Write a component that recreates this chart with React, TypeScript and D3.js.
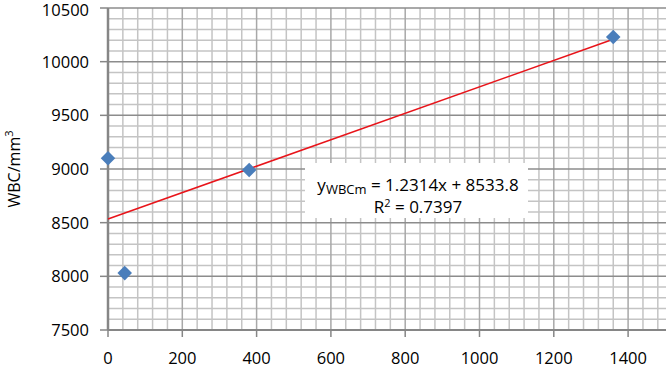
import React from 'react';
import * as d3 from 'd3';

// chart data
const xValues = [0, 45, 380, 1360];
const yValues = [9100, 8030, 8990, 10230];
const xTicks = [0, 200, 400, 600, 800, 1000, 1200, 1400];
const yTicks = [7500, 8000, 8500, 9000, 9500, 10000, 10500];
const slope = 1.2314;
const intercept = 8533.8;
const trendRange = [0, 1360];

const W = 666;
const H = 368;
const left = 108;
const top = 8;
const bottom = 330;
const font = '"Open Sans", sans-serif';

const App = () => {
  const x = d3.scaleLinear().domain([0, 1600]).range([left, left + 74.3 * 8]);
  const y = d3.scaleLinear().domain([7500, 10500]).range([bottom, top]);

  const minorX = d3.range(0, 1600, 40).filter((v) => v % 200 !== 0);
  const minorY = d3.range(7500, 10501, 100).filter((v) => v % 500 !== 0);
  const majorX = d3.range(200, 1601, 200);

  const diamond = d3.symbol().type(d3.symbolDiamond2).size(135);
  const trend = d3.line<number>()
    .x((d) => x(d))
    .y((d) => y(slope * d + intercept));

  return (
    <svg width={W} height={H} style={{ position: 'absolute', left: 0, top: 0, background: '#fff' }}>
      <rect width={W} height={H} fill="#fff" />
      {/* minor grid */}
      {minorX.map((v) => (
        <line key={'mx' + v} x1={x(v)} x2={x(v)} y1={top} y2={bottom} stroke="#c4c4c4" strokeWidth={1.5} />
      ))}
      {minorY.map((v) => (
        <line key={'my' + v} x1={left} x2={W} y1={y(v)} y2={y(v)} stroke="#c4c4c4" strokeWidth={1.5} />
      ))}
      {/* major grid */}
      {majorX.map((v) => (
        <line key={'Mx' + v} x1={x(v)} x2={x(v)} y1={top} y2={bottom} stroke="#a8a8a8" strokeWidth={1.5} />
      ))}
      {yTicks.slice(1).map((v) => (
        <line key={'My' + v} x1={left} x2={W} y1={y(v)} y2={y(v)} stroke="#8c8c8c" strokeWidth={1.5} />
      ))}
      {/* axes */}
      <line x1={left} x2={W} y1={bottom} y2={bottom} stroke="#868686" strokeWidth={2} />
      <line x1={left} x2={left} y1={top} y2={bottom} stroke="#868686" strokeWidth={2.5} />
      {yTicks.map((v) => (
        <g key={'yt' + v}>
          <line x1={left - 8} x2={left} y1={y(v)} y2={y(v)} stroke="#868686" strokeWidth={1.5} />
          <text
            x={89}
            y={Math.max(y(v), 10)}
            dy="0.36em"
            textAnchor="end"
            fontFamily={font}
            fontSize={16.5}
            fill="#000"
          >
            {v}
          </text>
        </g>
      ))}
      {xTicks.map((v) => (
        <g key={'xt' + v}>
          <line x1={x(v)} x2={x(v)} y1={bottom} y2={bottom + 7} stroke="#868686" strokeWidth={1.5} />
          <text x={x(v)} y={364} textAnchor="middle" fontFamily={font} fontSize={16.5} fill="#000">
            {v}
          </text>
        </g>
      ))}
      <text
        transform={`translate(20, ${(top + bottom) / 2}) rotate(-90)`}
        textAnchor="middle"
        fontFamily={font}
        fontSize={16}
        fill="#000"
      >
        WBC/mm<tspan dy={-7} fontSize={11}>3</tspan>
      </text>
      {/* trendline */}
      <path d={trend(trendRange) || ''} fill="none" stroke="#e8141a" strokeWidth={1.5} />
      {/* points */}
      {xValues.map((v, i) => (
        <path
          key={'p' + i}
          d={diamond() || ''}
          transform={`translate(${x(v)},${y(yValues[i])})`}
          fill="#4a7ebb"
        />
      ))}
      {/* equation label */}
      <rect x={305} y={163} width={223} height={55} fill="#fff" />
      <text x={418} y={191} textAnchor="middle" fontFamily={font} fontSize={17} fill="#000">
        y<tspan dy={3} fontSize={13}>WBCm</tspan>
        <tspan dy={-3}> = 1.2314x + 8533.8</tspan>
      </text>
      <text x={418} y={213} textAnchor="middle" fontFamily={font} fontSize={17} fill="#000">
        R<tspan dy={-6} fontSize={11}>2</tspan>
        <tspan dy={6}> = 0.7397</tspan>
      </text>
    </svg>
  );
};

export default App;
